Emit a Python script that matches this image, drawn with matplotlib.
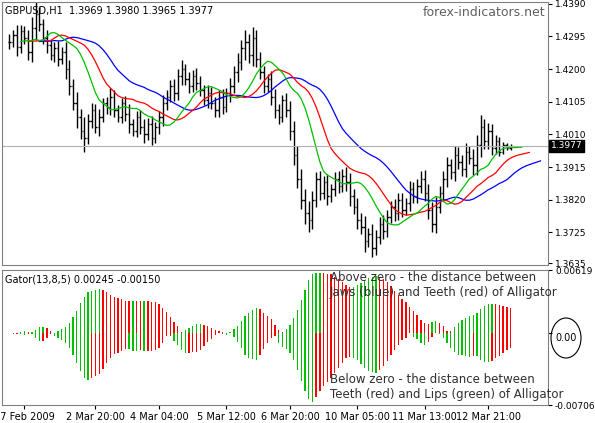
import numpy as np
import matplotlib.pyplot as plt
from matplotlib.patches import Ellipse

# hourly closes
close = [1.4280,1.4300,1.4265,1.4310,1.4290,1.4250,1.4320,1.4360,1.4330,1.4290,
         1.4270,1.4240,1.4260,1.4230,1.4250,1.4200,1.4150,1.4100,1.4060,1.4020,
         1.4000,1.4050,1.4080,1.4030,1.4060,1.4100,1.4090,1.4120,1.4080,1.4060,
         1.4100,1.4070,1.4040,1.4020,1.4060,1.4030,1.4010,1.4040,1.4000,1.4030,
         1.4060,1.4100,1.4120,1.4150,1.4130,1.4180,1.4200,1.4170,1.4150,1.4180,
         1.4160,1.4140,1.4110,1.4130,1.4100,1.4080,1.4120,1.4090,1.4130,1.4150,
         1.4190,1.4220,1.4260,1.4280,1.4240,1.4290,1.4230,1.4190,1.4150,1.4170,
         1.4120,1.4080,1.4060,1.4110,1.4080,1.4020,1.3950,1.3880,1.3820,1.3780,
         1.3760,1.3820,1.3880,1.3840,1.3870,1.3830,1.3850,1.3880,1.3860,1.3890,
         1.3870,1.3830,1.3800,1.3760,1.3740,1.3700,1.3720,1.3680,1.3710,1.3750,
         1.3730,1.3770,1.3800,1.3780,1.3820,1.3790,1.3810,1.3850,1.3830,1.3860,
         1.3880,1.3840,1.3790,1.3750,1.3800,1.3840,1.3880,1.3920,1.3900,1.3950,
         1.3930,1.3910,1.3960,1.3940,1.3920,1.3980,1.4030,1.3990,1.4020,1.3970,
         1.3990,1.3960,1.3980,1.3970,1.3977]
# wick sizes in pips
wick = [22,15,28,18,16,25,30,35,20,17,24,15,19,22,14,28,26,20,32,24,
        40,19,22,17,25,15,20,24,19,14,17,22,27,15,19,20,24,17,22,15,
        19,25,20,17,22,19,27,15,20,17,22,19,15,24,17,20,19,22,15,25,
        20,28,24,35,22,32,25,19,20,17,24,22,19,15,20,27,30,25,28,30,
        35,24,20,22,19,25,17,20,22,19,24,27,22,25,20,32,19,28,22,20,
        24,19,17,22,20,19,15,24,20,19,22,25,27,24,28,20,22,24,19,25,
        22,20,24,17,27,28,35,24,22,19,17,12,8,6,5]
dates = ["27 Feb 2009", "2 Mar 20:00", "4 Mar 04:00", "5 Mar 12:00",
         "6 Mar 20:00", "10 Mar 05:00", "11 Mar 13:00", "12 Mar 21:00"]
date_pos = [4, 23, 40, 58, 75, 93, 111, 128]

c = np.array(close)
o = np.r_[c[0], c[:-1]]
w = np.array(wick) / 10000
hi = np.maximum(o, c) + w
lo = np.minimum(o, c) - w
med = (hi + lo) / 2
n = len(c)
x = np.arange(n)

def smma(v, p):
    out = np.empty_like(v)
    out[0] = v[0]
    for i in range(1, len(v)):
        out[i] = (out[i-1] * (p - 1) + v[i]) / p
    return out

jaw, teeth, lips = smma(med, 13), smma(med, 8), smma(med, 5)

fig = plt.figure(figsize=(5.95, 4.23), dpi=100)
W, H = 595, 423
ax = fig.add_axes([2/W, 1 - 265/H, 546/W, 263/H])
ax2 = fig.add_axes([2/W, 1 - 405/H, 546/W, 135/H])
for a in (ax, ax2):
    a.set_xlim(-2, n + 9)
    a.yaxis.tick_right()
    a.tick_params(labelsize=6.5, length=3, direction='out', pad=2)
    for s in a.spines.values():
        s.set_color('#808080')

ax.vlines(x, lo, hi, color='black', lw=1)
ax.hlines(o, x - 0.4, x, color='black', lw=1)
ax.hlines(c, x, x + 0.4, color='black', lw=1)
ax.plot(x + 8, jaw, color='#0000ff', lw=0.9)
ax.plot(x + 5, teeth, color='#ff0000', lw=0.9)
ax.plot(x + 3, lips, color='#00c000', lw=0.9)
ax.axhline(c[-1], color='#b0b0b0', lw=0.8)
ax.set_ylim(1.3630, 1.4395)
ax.set_yticks([1.4390, 1.4295, 1.4200, 1.4105, 1.4010, 1.3915, 1.3820, 1.3725, 1.3635])
ax.set_yticklabels(['1.4390', '1.4295', '1.4200', '1.4105', '1.4010', '1.3915', '1.3820', '1.3725', '1.3635'])
ax.text(1.005, (c[-1] - 1.3630) / (1.4395 - 1.3630), '1.3977', transform=ax.transAxes,
        fontsize=6.5, color='white', va='center', bbox=dict(fc='black', ec='black', pad=1))
ax.set_xticks([])
ax.text(0.005, 0.985, 'GBPUSD,H1  1.3969 1.3980 1.3965 1.3977', transform=ax.transAxes,
        fontsize=7, va='top')
ax.text(0.995, 0.985, 'forex-indicators.net', transform=ax.transAxes, fontsize=9,
        va='top', ha='right', color='#606060')

up = np.abs(jaw - teeth)
dn = -np.abs(teeth - lips)
cu = ['#00c000' if i == 0 or up[i] >= up[i-1] else '#ff0000' for i in range(n)]
cd = ['#00c000' if i == 0 or dn[i] <= dn[i-1] else '#ff0000' for i in range(n)]
ax2.bar(x, up, width=0.35, color=cu)
ax2.bar(x, dn, width=0.35, color=cd)
top, bot = up.max() * 1.05, dn.min() * 1.05
ax2.set_ylim(bot, top)
ax2.set_yticks([top, 0, bot])
ax2.set_yticklabels([f'{top:.5f}', '', f'{bot:.5f}'])
ax2.set_xticks(date_pos)
ax2.set_xticklabels(dates, fontsize=7)
ax2.text(0.005, 0.97, f'Gator(13,8,5) {up[-1]:.5f} {dn[-1]:.5f}', transform=ax2.transAxes,
         fontsize=7, va='top')
ax2.text(0.6, 0.99, 'Above zero - the distance between\nJaws (blue) and Teeth (red) of Alligator',
         transform=ax2.transAxes, fontsize=8.5, va='top', color='#303030')
ax2.text(0.6, 0.03, 'Below zero - the distance between\nTeeth (red) and Lips (green) of Alligator',
         transform=ax2.transAxes, fontsize=8.5, va='bottom', color='#303030')
fig.text(566/W, 1 - 338/H, '0.00', fontsize=7, ha='center', va='center')
fig.patches.append(Ellipse((566/W, 1 - 338/H), 30/W, 40/H, transform=fig.transFigure,
                           fill=False, ec='black', lw=0.8))
fig.savefig('out.png', dpi=100)
